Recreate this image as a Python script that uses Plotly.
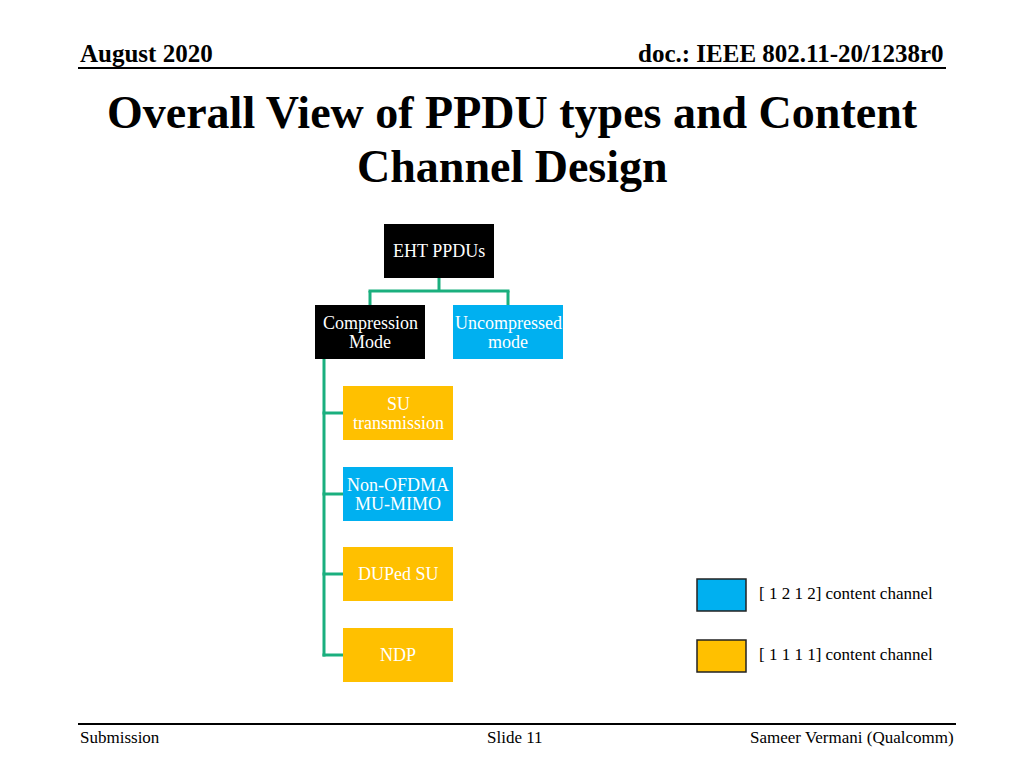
import plotly.graph_objects as go

# ---- data ----
header_left = "August 2020"
header_right = "doc.: IEEE 802.11-20/1238r0"
title_lines = ["Overall View of PPDU types and Content", "Channel Design"]
footer_left = "Submission"
footer_center = "Slide 11"
footer_right = "Sameer Vermani (Qualcomm)"

node_labels = [["EHT PPDUs"], ["Compression", "Mode"], ["Uncompressed", "mode"],
               ["SU", "transmission"], ["Non-OFDMA", "MU-MIMO"], ["DUPed SU"], ["NDP"]]
node_parents = [None, 0, 0, 1, 1, 1, 1]
node_kind = ["root", "root", "1212", "1111", "1212", "1111", "1111"]

legend_kinds = ["1212", "1111"]
legend_labels = ["[ 1 2 1 2] content channel", "[ 1 1 1 1] content channel"]

# ---- styles / layout ----
COLORS = {"root": "#000000", "1212": "#00B0F0", "1111": "#FFC000"}
LINE_GREEN = "#1AAF7E"
SERIF = "Liberation Serif, Times New Roman, serif"
BW, BH = 110, 54
LINE_H = 19
# box top-left positions in page pixels
node_pos = [(384, 224), (315, 305), (453, 305), (343, 386), (343, 467), (343, 547), (343, 628)]

fig = go.Figure()
shapes = []
ann = []

def text(x, y, s, size, color="black", bold=False, xanchor="center", yanchor="middle"):
    if bold:
        s = "<b>" + s + "</b>"
    ann.append(dict(x=x, y=y, xref="x", yref="y", text=s, showarrow=False,
                    xanchor=xanchor, yanchor=yanchor,
                    font=dict(family=SERIF, size=size, color=color)))

def line(x0, y0, x1, y1, color, width):
    shapes.append(dict(type="line", x0=x0, y0=y0, x1=x1, y1=y1, xref="x", yref="y",
                       line=dict(color=color, width=width)))

# header
text(78, 53, header_left, 25, bold=True, xanchor="left")
text(946, 53, header_right, 25, bold=True, xanchor="right")
line(78, 68, 946, 68, "black", 2)

# title
text(512, 112, title_lines[0], 46, bold=True)
text(512, 166, title_lines[1], 46, bold=True)

# connectors
rx, ry = node_pos[0]
kids1 = [i for i, p in enumerate(node_parents) if p == 0]
bar_y = 291
line(rx + BW / 2, ry + BH, rx + BW / 2, bar_y, LINE_GREEN, 3)
cxs = [node_pos[k][0] + BW / 2 for k in kids1]
line(min(cxs) - 1.5, bar_y, max(cxs) + 1.5, bar_y, LINE_GREEN, 3)
for cx, k in zip(cxs, kids1):
    line(cx, bar_y, cx, node_pos[k][1], LINE_GREEN, 3)

kids2 = [i for i, p in enumerate(node_parents) if p == 1]
px, py = node_pos[1]
spine_x = px + 9
last_y = node_pos[kids2[-1]][1] + BH / 2
line(spine_x, py + BH, spine_x, last_y + 1.5, LINE_GREEN, 3)
for k in kids2:
    cy = node_pos[k][1] + BH / 2
    line(spine_x - 1.5, cy, node_pos[k][0], cy, LINE_GREEN, 3)

# boxes
for lab, kind, (x0, y0) in zip(node_labels, node_kind, node_pos):
    shapes.append(dict(type="rect", x0=x0, y0=y0, x1=x0 + BW, y1=y0 + BH, xref="x", yref="y",
                       fillcolor=COLORS[kind], line=dict(width=0)))
    n = len(lab)
    for j, s in enumerate(lab):
        cy = y0 + BH / 2 + (j - (n - 1) / 2) * LINE_H
        text(x0 + BW / 2, cy, s, 18, color="white")

# legend
for i, (kind, lab) in enumerate(zip(legend_kinds, legend_labels)):
    y0 = 579 + i * 61
    shapes.append(dict(type="rect", x0=697, y0=y0, x1=746, y1=y0 + 32, xref="x", yref="y",
                       fillcolor=COLORS[kind], line=dict(color="#222222", width=1.5)))
    text(757, y0 + 14, lab, 17, xanchor="left")

# footer
line(78, 724, 956, 724, "black", 2)
text(78, 737, footer_left, 17, xanchor="left")
text(515, 737, footer_center, 17)
text(956, 737, footer_right, 17, xanchor="right")

fig.update_layout(
    width=1024, height=768, margin=dict(l=0, r=0, t=0, b=0),
    paper_bgcolor="white", plot_bgcolor="white",
    xaxis=dict(range=[0, 1024], visible=False, fixedrange=True),
    yaxis=dict(range=[768, 0], visible=False, fixedrange=True),
    shapes=shapes, annotations=ann, showlegend=False,
)
fig.write_html("out.html", config={"displayModeBar": False},
               post_script="document.body.style.margin='0';document.body.style.overflow='hidden';")
